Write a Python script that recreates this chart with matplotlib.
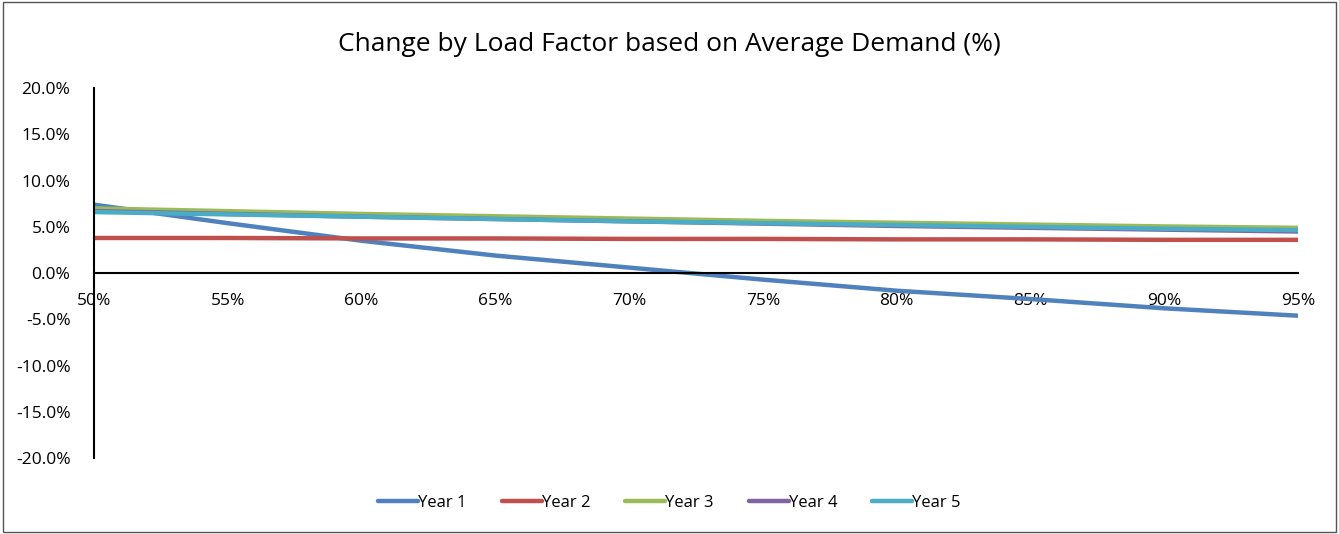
import numpy as np
import matplotlib.pyplot as plt
from matplotlib.ticker import FuncFormatter, MultipleLocator

# Datos (factor de carga en %, cambio en %)
load_factor = [50, 55, 60, 65, 70, 75, 80, 85, 90, 95]
year1 = [7.4, 5.4, 3.5, 1.9, 0.6, -0.7, -1.9, -2.8, -3.8, -4.6]
year2 = [3.8, 3.8, 3.75, 3.75, 3.7, 3.7, 3.65, 3.65, 3.6, 3.6]
year3 = [7.0, 6.7, 6.4, 6.15, 5.9, 5.65, 5.45, 5.25, 5.05, 4.9]
year4 = [6.7, 6.4, 6.1, 5.85, 5.6, 5.35, 5.1, 4.9, 4.7, 4.5]
year5 = [6.6, 6.35, 6.1, 5.85, 5.6, 5.4, 5.2, 5.0, 4.8, 4.65]

series = [("Year 1", year1, "#4F81BD"), ("Year 2", year2, "#C0504D"),
          ("Year 3", year3, "#9BBB59"), ("Year 4", year4, "#8064A2"),
          ("Year 5", year5, "#4BACC6")]

plt.rcParams['font.family'] = ['Open Sans', 'DejaVu Sans']

fig = plt.figure(figsize=(13.39, 5.34), dpi=100)
fig.patches.append(plt.Rectangle((0.002, 0.003), 0.996, 0.994, transform=fig.transFigure,
                                 fill=False, edgecolor='#555555', linewidth=1))
ax = fig.add_axes([0.0702, 0.142, 0.8992, 0.693])

for name, vals, color in series:
    ax.plot(load_factor, vals, color=color, linewidth=3.2, label=name, solid_capstyle='round')

ax.set_xlim(50, 95)
ax.set_ylim(-20, 20)
ax.yaxis.set_major_locator(MultipleLocator(5))
ax.xaxis.set_major_locator(MultipleLocator(5))
ax.yaxis.set_major_formatter(FuncFormatter(lambda v, p: f"{v:.1f}%"))
ax.xaxis.set_major_formatter(FuncFormatter(lambda v, p: f"{v:.0f}%"))

ax.spines['top'].set_visible(False)
ax.spines['right'].set_visible(False)
ax.spines['bottom'].set_position(('data', 0))
ax.spines['left'].set_linewidth(1.5)
ax.spines['bottom'].set_linewidth(1.5)
ax.tick_params(axis='both', length=0, labelsize=12.5)
ax.tick_params(axis='y', pad=17)
ax.tick_params(axis='x', pad=14)

fig.text(0.5, 0.916, "Change by Load Factor based on Average Demand (%)",
         ha='center', va='center', fontsize=19)

fig.legend(loc='center', bbox_to_anchor=(0.5, 0.058), ncol=5, frameon=False,
           fontsize=12, handlelength=2.4, handletextpad=0.0, columnspacing=2.1)

plt.savefig("out.png", dpi=100)
